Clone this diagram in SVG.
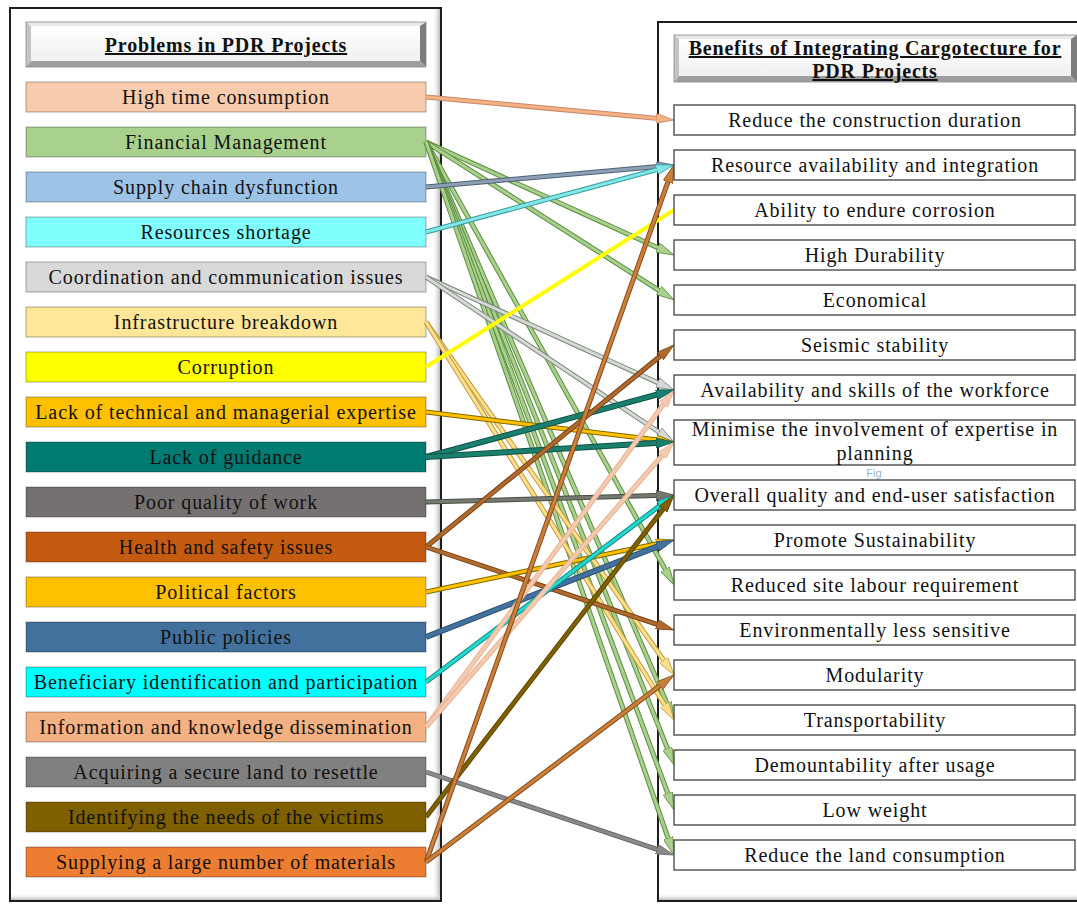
<svg xmlns="http://www.w3.org/2000/svg" width="1077" height="905" viewBox="0 0 1077 905">
<defs>
<style>
.frame{fill:#fff;stroke:#1e1e1e;stroke-width:2}
.lb{stroke:#000;stroke-opacity:0.32;stroke-width:1}
.rb{fill:#fff;stroke:#404040;stroke-width:1.3}
.t{font-family:"Liberation Serif","Times New Roman",serif;font-size:20px;letter-spacing:0.9px;fill:#111;text-anchor:middle}
.h{font-family:"Liberation Serif","Times New Roman",serif;font-size:20px;letter-spacing:0.8px;font-weight:bold;fill:#111;text-anchor:middle;text-decoration:underline}
.o{stroke-width:5;fill:none}
.f{stroke-width:3;fill:none}
.salmon .o{stroke:#C8896A}.salmon .f{stroke:#F4B183;marker-end:url(#m-salmon)}
.green .o{stroke:#5E8C40}.green .f{stroke:#A9D18E;marker-end:url(#m-green)}
.bluegray .o{stroke:#4F6277}.bluegray .f{stroke:#8C9FB5;marker-end:url(#m-bluegray)}
.cyan .o{stroke:#3A9A9A}.cyan .f{stroke:#80E8E8;marker-end:url(#m-cyan)}
.lgray .o{stroke:#7D857D}.lgray .f{stroke:#D5DAD5;marker-end:url(#m-lgray)}
.pyellow .o{stroke:#BF9A40}.pyellow .f{stroke:#FFE08A;marker-end:url(#m-pyellow)}
.gold .o{stroke:#7F6A00}.gold .f{stroke:#FFC000;marker-end:url(#m-gold)}
.teal .o{stroke:#0E5347;stroke-width:6}.teal .f{stroke:#1A7F6E;stroke-width:4;marker-end:url(#m-teal)}
.gray .o{stroke:#4A4E46}.gray .f{stroke:#757A70;marker-end:url(#m-gray)}
.brown .o{stroke:#7A4416}.brown .f{stroke:#B06A2E;marker-end:url(#m-brown)}
.slate .o{stroke:#2F5276;stroke-width:6}.slate .f{stroke:#41719C;stroke-width:4;marker-end:url(#m-slate)}
.cyan2 .o{stroke:#128A85}.cyan2 .f{stroke:#22D8D0;marker-end:url(#m-cyan2)}
.peach .o{stroke:#E6B090}.peach .f{stroke:#F4CBB0;marker-end:url(#m-peach)}
.gray2 .o{stroke:#6A6A6A}.gray2 .f{stroke:#8A8A8A;marker-end:url(#m-gray2)}
.olive .o{stroke:#5A4400}.olive .f{stroke:#806000;marker-end:url(#m-olive)}
.orange .o{stroke:#8A4A1A}.orange .f{stroke:#C8803A;marker-end:url(#m-orange)}
.yellow .f{stroke:#FFFF00;stroke-width:4;fill:none}
</style>
<linearGradient id="btn" x1="0" y1="0" x2="0" y2="1"><stop offset="0" stop-color="#ffffff"/><stop offset="1" stop-color="#f0f0f0"/></linearGradient>
<linearGradient id="shR" x1="0" y1="0" x2="1" y2="0"><stop offset="0" stop-color="#ffffff" stop-opacity="0"/><stop offset="1" stop-color="#bdbdbd"/></linearGradient>
<linearGradient id="shB" x1="0" y1="0" x2="0" y2="1"><stop offset="0" stop-color="#ffffff" stop-opacity="0"/><stop offset="1" stop-color="#bdbdbd"/></linearGradient>
<marker id="m-salmon" markerUnits="userSpaceOnUse" markerWidth="18" markerHeight="10" refX="8" refY="5" orient="auto"><path d="M0,0 L18,5 L0,10 z" fill="#F4B183" stroke="#C8896A" stroke-width="0.8"/></marker>
<marker id="m-green" markerUnits="userSpaceOnUse" markerWidth="18" markerHeight="10" refX="8" refY="5" orient="auto"><path d="M0,0 L18,5 L0,10 z" fill="#A9D18E" stroke="#5E8C40" stroke-width="0.8"/></marker>
<marker id="m-bluegray" markerUnits="userSpaceOnUse" markerWidth="18" markerHeight="10" refX="8" refY="5" orient="auto"><path d="M0,0 L18,5 L0,10 z" fill="#8C9FB5" stroke="#4F6277" stroke-width="0.8"/></marker>
<marker id="m-cyan" markerUnits="userSpaceOnUse" markerWidth="18" markerHeight="10" refX="8" refY="5" orient="auto"><path d="M0,0 L18,5 L0,10 z" fill="#80E8E8" stroke="#3A9A9A" stroke-width="0.8"/></marker>
<marker id="m-lgray" markerUnits="userSpaceOnUse" markerWidth="18" markerHeight="10" refX="8" refY="5" orient="auto"><path d="M0,0 L18,5 L0,10 z" fill="#D5DAD5" stroke="#7D857D" stroke-width="0.8"/></marker>
<marker id="m-pyellow" markerUnits="userSpaceOnUse" markerWidth="18" markerHeight="10" refX="8" refY="5" orient="auto"><path d="M0,0 L18,5 L0,10 z" fill="#FFE08A" stroke="#BF9A40" stroke-width="0.8"/></marker>
<marker id="m-gold" markerUnits="userSpaceOnUse" markerWidth="18" markerHeight="10" refX="8" refY="5" orient="auto"><path d="M0,0 L18,5 L0,10 z" fill="#FFC000" stroke="#7F6A00" stroke-width="0.8"/></marker>
<marker id="m-teal" markerUnits="userSpaceOnUse" markerWidth="18" markerHeight="10" refX="8" refY="5" orient="auto"><path d="M0,0 L18,5 L0,10 z" fill="#1A7F6E" stroke="#0E5347" stroke-width="0.8"/></marker>
<marker id="m-gray" markerUnits="userSpaceOnUse" markerWidth="18" markerHeight="10" refX="8" refY="5" orient="auto"><path d="M0,0 L18,5 L0,10 z" fill="#757A70" stroke="#4A4E46" stroke-width="0.8"/></marker>
<marker id="m-brown" markerUnits="userSpaceOnUse" markerWidth="18" markerHeight="10" refX="8" refY="5" orient="auto"><path d="M0,0 L18,5 L0,10 z" fill="#B06A2E" stroke="#7A4416" stroke-width="0.8"/></marker>
<marker id="m-slate" markerUnits="userSpaceOnUse" markerWidth="18" markerHeight="10" refX="8" refY="5" orient="auto"><path d="M0,0 L18,5 L0,10 z" fill="#41719C" stroke="#2F5276" stroke-width="0.8"/></marker>
<marker id="m-cyan2" markerUnits="userSpaceOnUse" markerWidth="18" markerHeight="10" refX="8" refY="5" orient="auto"><path d="M0,0 L18,5 L0,10 z" fill="#22D8D0" stroke="#128A85" stroke-width="0.8"/></marker>
<marker id="m-peach" markerUnits="userSpaceOnUse" markerWidth="18" markerHeight="10" refX="8" refY="5" orient="auto"><path d="M0,0 L18,5 L0,10 z" fill="#F4CBB0" stroke="#E6B090" stroke-width="0.8"/></marker>
<marker id="m-gray2" markerUnits="userSpaceOnUse" markerWidth="18" markerHeight="10" refX="8" refY="5" orient="auto"><path d="M0,0 L18,5 L0,10 z" fill="#8A8A8A" stroke="#6A6A6A" stroke-width="0.8"/></marker>
<marker id="m-olive" markerUnits="userSpaceOnUse" markerWidth="18" markerHeight="10" refX="8" refY="5" orient="auto"><path d="M0,0 L18,5 L0,10 z" fill="#806000" stroke="#5A4400" stroke-width="0.8"/></marker>
<marker id="m-orange" markerUnits="userSpaceOnUse" markerWidth="18" markerHeight="10" refX="8" refY="5" orient="auto"><path d="M0,0 L18,5 L0,10 z" fill="#C8803A" stroke="#8A4A1A" stroke-width="0.8"/></marker>
</defs>
<rect width="1077" height="905" fill="#fff"/>

<g id="frames">
<rect class="frame" x="10" y="8" width="431" height="893"/>
<rect x="432" y="9" width="8" height="891" fill="url(#shR)"/>
<rect x="11" y="893" width="429" height="7" fill="url(#shB)"/>
<rect class="frame" x="658" y="22" width="425" height="879"/>
<rect x="659" y="893" width="418" height="7" fill="url(#shB)"/>
</g>

<g id="header-problems">
<polygon points="26,22 426,22 420,26 31,26" fill="#e8e8e8"/>
<polygon points="26,22 31,26 31,61 26,67" fill="#c4c4c4"/>
<polygon points="426,22 426,67 420,61 420,26" fill="#7c7c7c"/>
<polygon points="26,67 31,61 420,61 426,67" fill="#9e9e9e"/>
<rect x="31" y="26" width="389" height="35" fill="url(#btn)"/>
<rect x="26" y="22" width="400" height="45" fill="none" stroke="#8a8a8a" stroke-width="0.8"/>
<text class="h" x="226" y="52">Problems in PDR Projects</text>
</g>

<g id="header-benefits">
<polygon points="674,35 1077,35 1071,39 679,39" fill="#e8e8e8"/>
<polygon points="674,35 679,39 679,76 674,82" fill="#c4c4c4"/>
<polygon points="1077,35 1077,82 1071,76 1071,39" fill="#7c7c7c"/>
<polygon points="674,82 679,76 1071,76 1077,82" fill="#9e9e9e"/>
<rect x="679" y="39" width="392" height="37" fill="url(#btn)"/>
<rect x="674" y="35" width="403" height="47" fill="none" stroke="#8a8a8a" stroke-width="0.8"/>
<text class="h" x="875" y="55">Benefits of Integrating Cargotecture for</text>
<text class="h" x="875" y="78">PDR Projects</text>
</g>

<g id="problems">
<g id="p1"><rect class="lb" x="26" y="82" width="400" height="30" fill="#F8CBAD"/><text class="t" x="226" y="104">High time consumption</text></g>
<g id="p2"><rect class="lb" x="26" y="127" width="400" height="30" fill="#A9D18E"/><text class="t" x="226" y="149">Financial Management</text></g>
<g id="p3"><rect class="lb" x="26" y="172" width="400" height="30" fill="#9DC3E6"/><text class="t" x="226" y="194">Supply chain dysfunction</text></g>
<g id="p4"><rect class="lb" x="26" y="217" width="400" height="30" fill="#80FFFF"/><text class="t" x="226" y="239">Resources shortage</text></g>
<g id="p5"><rect class="lb" x="26" y="262" width="400" height="30" fill="#D9D9D9"/><text class="t" x="226" y="284">Coordination and communication issues</text></g>
<g id="p6"><rect class="lb" x="26" y="307" width="400" height="30" fill="#FFE699"/><text class="t" x="226" y="329">Infrastructure breakdown</text></g>
<g id="p7"><rect class="lb" x="26" y="352" width="400" height="30" fill="#FFFF00"/><text class="t" x="226" y="374">Corruption</text></g>
<g id="p8"><rect class="lb" x="26" y="397" width="400" height="30" fill="#FFC000"/><text class="t" x="226" y="419">Lack of technical and managerial expertise</text></g>
<g id="p9"><rect class="lb" x="26" y="442" width="400" height="30" fill="#007B71"/><text class="t" x="226" y="464">Lack of guidance</text></g>
<g id="p10"><rect class="lb" x="26" y="487" width="400" height="30" fill="#767171"/><text class="t" x="226" y="509">Poor quality of work</text></g>
<g id="p11"><rect class="lb" x="26" y="532" width="400" height="30" fill="#C55A11"/><text class="t" x="226" y="554">Health and safety issues</text></g>
<g id="p12"><rect class="lb" x="26" y="577" width="400" height="30" fill="#FFC000"/><text class="t" x="226" y="599">Political factors</text></g>
<g id="p13"><rect class="lb" x="26" y="622" width="400" height="30" fill="#41719C"/><text class="t" x="226" y="644">Public policies</text></g>
<g id="p14"><rect class="lb" x="26" y="667" width="400" height="30" fill="#00FFFF"/><text class="t" x="226" y="689">Beneficiary identification and participation</text></g>
<g id="p15"><rect class="lb" x="26" y="712" width="400" height="30" fill="#F4B183"/><text class="t" x="226" y="734">Information and knowledge dissemination</text></g>
<g id="p16"><rect class="lb" x="26" y="757" width="400" height="30" fill="#808080"/><text class="t" x="226" y="779">Acquiring a secure land to resettle</text></g>
<g id="p17"><rect class="lb" x="26" y="802" width="400" height="30" fill="#7F6000"/><text class="t" x="226" y="824">Identifying the needs of the victims</text></g>
<g id="p18"><rect class="lb" x="26" y="847" width="400" height="30" fill="#ED7D31"/><text class="t" x="226" y="869">Supplying a large number of materials</text></g>
</g>

<g id="connectors">
<g class="salmon"><line class="o" x1="426" y1="97" x2="664.0" y2="119.1"/><line class="f" x1="426" y1="97" x2="664.0" y2="119.1"/></g>
<g class="green"><line class="o" x1="426" y1="142" x2="664.9" y2="250.9"/><line class="f" x1="426" y1="142" x2="664.9" y2="250.9"/></g>
<g class="green"><line class="o" x1="426" y1="142" x2="665.6" y2="294.6"/><line class="f" x1="426" y1="142" x2="665.6" y2="294.6"/></g>
<g class="green"><line class="o" x1="426" y1="142" x2="669.1" y2="576.3"/><line class="f" x1="426" y1="142" x2="669.1" y2="576.3"/></g>
<g class="green"><line class="o" x1="426" y1="142" x2="670.1" y2="710.8"/><line class="f" x1="426" y1="142" x2="670.1" y2="710.8"/></g>
<g class="green"><line class="o" x1="426" y1="142" x2="670.3" y2="755.7"/><line class="f" x1="426" y1="142" x2="670.3" y2="755.7"/></g>
<g class="green"><line class="o" x1="426" y1="142" x2="670.5" y2="800.6"/><line class="f" x1="426" y1="142" x2="670.5" y2="800.6"/></g>
<g class="green"><line class="o" x1="426" y1="142" x2="670.7" y2="845.6"/><line class="f" x1="426" y1="142" x2="670.7" y2="845.6"/></g>
<g class="bluegray"><line class="o" x1="426" y1="187" x2="664.0" y2="165.9"/><line class="f" x1="426" y1="187" x2="664.0" y2="165.9"/></g>
<g class="cyan"><line class="o" x1="426" y1="232" x2="664.3" y2="167.6"/><line class="f" x1="426" y1="232" x2="664.3" y2="167.6"/></g>
<g class="lgray"><line class="o" x1="426" y1="277" x2="664.9" y2="385.9"/><line class="f" x1="426" y1="277" x2="664.9" y2="385.9"/></g>
<g class="lgray"><line class="o" x1="426" y1="277" x2="665.7" y2="436.5"/><line class="f" x1="426" y1="277" x2="665.7" y2="436.5"/></g>
<g class="pyellow"><line class="o" x1="426" y1="322" x2="668.3" y2="666.8"/><line class="f" x1="426" y1="322" x2="668.3" y2="666.8"/></g>
<g class="pyellow"><line class="o" x1="426" y1="322" x2="668.7" y2="711.5"/><line class="f" x1="426" y1="322" x2="668.7" y2="711.5"/></g>
<g class="yellow"><line class="f" x1="426" y1="367" x2="674" y2="210"/></g>
<g class="gold"><line class="o" x1="426" y1="412" x2="664.1" y2="440.8"/><line class="f" x1="426" y1="412" x2="664.1" y2="440.8"/></g>
<g class="teal"><line class="o" x1="426" y1="457" x2="664.3" y2="392.6"/><line class="f" x1="426" y1="457" x2="664.3" y2="392.6"/></g>
<g class="teal"><line class="o" x1="426" y1="457" x2="664.0" y2="442.6"/><line class="f" x1="426" y1="457" x2="664.0" y2="442.6"/></g>
<g class="gray"><line class="o" x1="426" y1="502" x2="664.0" y2="495.3"/><line class="f" x1="426" y1="502" x2="664.0" y2="495.3"/></g>
<g class="brown"><line class="o" x1="426" y1="547" x2="666.2" y2="351.3"/><line class="f" x1="426" y1="547" x2="666.2" y2="351.3"/></g>
<g class="brown"><line class="o" x1="426" y1="547" x2="664.5" y2="626.8"/><line class="f" x1="426" y1="547" x2="664.5" y2="626.8"/></g>
<g class="gold"><line class="o" x1="426" y1="592" x2="664.2" y2="542.1"/><line class="f" x1="426" y1="592" x2="664.2" y2="542.1"/></g>
<g class="slate"><line class="o" x1="426" y1="637" x2="664.7" y2="543.6"/><line class="f" x1="426" y1="637" x2="664.7" y2="543.6"/></g>
<g class="cyan2"><line class="o" x1="426" y1="682" x2="666.0" y2="501.0"/><line class="f" x1="426" y1="682" x2="666.0" y2="501.0"/></g>
<g class="peach"><line class="o" x1="426" y1="727" x2="668.1" y2="398.1"/><line class="f" x1="426" y1="727" x2="668.1" y2="398.1"/></g>
<g class="peach"><line class="o" x1="426" y1="727" x2="667.4" y2="449.5"/><line class="f" x1="426" y1="727" x2="667.4" y2="449.5"/></g>
<g class="gray2"><line class="o" x1="426" y1="772" x2="664.5" y2="851.8"/><line class="f" x1="426" y1="772" x2="664.5" y2="851.8"/></g>
<g class="olive"><line class="o" x1="426" y1="817" x2="667.9" y2="502.9"/><line class="f" x1="426" y1="817" x2="667.9" y2="502.9"/></g>
<g class="orange"><line class="o" x1="426" y1="862" x2="670.6" y2="174.4"/><line class="f" x1="426" y1="862" x2="670.6" y2="174.4"/></g>
<g class="orange"><line class="o" x1="426" y1="862" x2="666.0" y2="681.0"/><line class="f" x1="426" y1="862" x2="666.0" y2="681.0"/></g>
</g>

<g id="benefits">
<text x="874" y="477" font-family="Liberation Sans, Arial, sans-serif" font-size="11" fill="#8fb4d8" text-anchor="middle">Fig</text>
<g id="b1"><rect class="rb" x="674" y="105" width="401" height="30"/><text class="t" x="875" y="127">Reduce the construction duration</text></g>
<g id="b2"><rect class="rb" x="674" y="150" width="401" height="30"/><text class="t" x="875" y="172">Resource availability and integration</text></g>
<g id="b3"><rect class="rb" x="674" y="195" width="401" height="30"/><text class="t" x="875" y="217">Ability to endure corrosion</text></g>
<g id="b4"><rect class="rb" x="674" y="240" width="401" height="30"/><text class="t" x="875" y="262">High Durability</text></g>
<g id="b5"><rect class="rb" x="674" y="285" width="401" height="30"/><text class="t" x="875" y="307">Economical</text></g>
<g id="b6"><rect class="rb" x="674" y="330" width="401" height="30"/><text class="t" x="875" y="352">Seismic stability</text></g>
<g id="b7"><rect class="rb" x="674" y="375" width="401" height="30"/><text class="t" x="875" y="397">Availability and skills of the workforce</text></g>
<g id="b8"><rect class="rb" x="674" y="420" width="401" height="45"/><text class="t" x="875" y="436">Minimise the involvement of expertise in</text><text class="t" x="875" y="460">planning</text></g>
<g id="b9"><rect class="rb" x="674" y="480" width="401" height="30"/><text class="t" x="875" y="502">Overall quality and end-user satisfaction</text></g>
<g id="b10"><rect class="rb" x="674" y="525" width="401" height="30"/><text class="t" x="875" y="547">Promote Sustainability</text></g>
<g id="b11"><rect class="rb" x="674" y="570" width="401" height="30"/><text class="t" x="875" y="592">Reduced site labour requirement</text></g>
<g id="b12"><rect class="rb" x="674" y="615" width="401" height="30"/><text class="t" x="875" y="637">Environmentally less sensitive</text></g>
<g id="b13"><rect class="rb" x="674" y="660" width="401" height="30"/><text class="t" x="875" y="682">Modularity</text></g>
<g id="b14"><rect class="rb" x="674" y="705" width="401" height="30"/><text class="t" x="875" y="727">Transportability</text></g>
<g id="b15"><rect class="rb" x="674" y="750" width="401" height="30"/><text class="t" x="875" y="772">Demountability after usage</text></g>
<g id="b16"><rect class="rb" x="674" y="795" width="401" height="30"/><text class="t" x="875" y="817">Low weight</text></g>
<g id="b17"><rect class="rb" x="674" y="840" width="401" height="30"/><text class="t" x="875" y="862">Reduce the land consumption</text></g>
</g>
</svg>
